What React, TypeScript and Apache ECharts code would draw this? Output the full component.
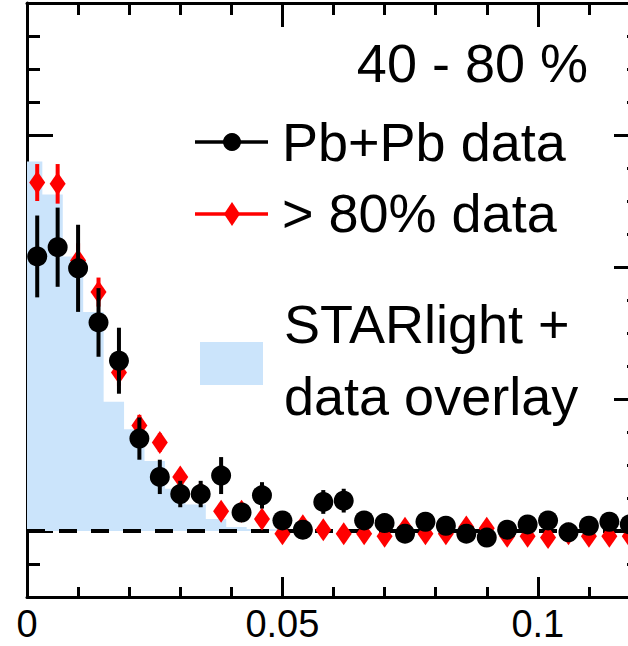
import React, { useEffect, useRef } from "react";
import * as echarts from "echarts";

// Bin centres (|t| style x variable)
const xCenters = [
  0.002, 0.006, 0.010, 0.014, 0.018, 0.022, 0.026, 0.030, 0.034, 0.038,
  0.042, 0.046, 0.050, 0.054, 0.058, 0.062, 0.066, 0.070, 0.074, 0.078,
  0.082, 0.086, 0.090, 0.094, 0.098, 0.102, 0.106, 0.110, 0.114, 0.118,
];

// Pb+Pb data (40-80 %)
const pbpb = [
  2.08, 2.15, 1.99, 1.58, 1.29, 0.70, 0.41, 0.28, 0.28, 0.42,
  0.14, 0.27, 0.08, 0.01, 0.22, 0.23, 0.08, 0.06, -0.02, 0.07,
  0.04, -0.02, -0.05, 0.01, 0.05, 0.08, -0.01, 0.04, 0.07, 0.05,
];
const pbpbErr = [
  0.31, 0.30, 0.33, 0.26, 0.25, 0.16, 0.13, 0.10, 0.10, 0.14,
  0.06, 0.10, 0.04, 0.03, 0.09, 0.09, 0.04, 0.04, 0.04, 0.04,
  0.04, 0.04, 0.04, 0.04, 0.04, 0.04, 0.04, 0.04, 0.04, 0.04,
];

// > 80% data
const periph = [
  2.64, 2.63, 2.05, 1.81, 1.20, 0.80, 0.67, 0.41, 0.29, 0.15,
  0.15, 0.09, -0.02, 0.04, 0.01, -0.02, -0.02, -0.04, 0.02, -0.02,
  -0.02, 0.03, 0.02, -0.04, -0.04, -0.05, -0.02, -0.04, -0.04, -0.04,
];
const periphErr = [
  0.14, 0.15, 0.13, 0.11, 0.10, 0.08, 0.07, 0.06, 0.05, 0.04,
  0.04, 0.04, 0.04, 0.04, 0.04, 0.04, 0.04, 0.04, 0.04, 0.04,
  0.04, 0.04, 0.04, 0.04, 0.04, 0.04, 0.04, 0.04, 0.04, 0.04,
];

// STARlight + data overlay histogram
const histLow = [
  -0.001, 0.003, 0.007, 0.011, 0.015, 0.019, 0.023, 0.027, 0.031, 0.035,
  0.039, 0.043, 0.047, 0.051,
];
const histHigh = [
  0.003, 0.007, 0.011, 0.015, 0.019, 0.023, 0.027, 0.031, 0.035, 0.039,
  0.043, 0.047, 0.051, 0.055,
];
const histVal = [
  2.80, 2.55, 2.08, 1.66, 0.98, 0.77, 0.53, 0.32, 0.20, 0.09,
  0.03, 0.015, 0.01, 0,
];

const xMajorTicks = [0, 0.05, 0.1];
const xMinorTicks = [0.01, 0.02, 0.03, 0.04, 0.06, 0.07, 0.08, 0.09, 0.11];
const xTickLabels = ["0", "0.05", "0.1"];
const yMajorTicks = [0, 1, 2, 3];
const yMinorTicks = [
  -0.25, 0.25, 0.5, 0.75, 1.25, 1.5, 1.75, 2.25, 2.5, 2.75, 3.25, 3.5, 3.75,
];

const X_MIN = 0;
const X_MAX = 0.12;
const Y_MIN = -0.5;
const Y_MAX = 4;
const ZERO_LINE = [[X_MIN, X_MAX, 0]];

const BLUE = "#cbe4fb";
const FONT = '"Liberation Sans", Arial, Helvetica, sans-serif';
const LEG_FONT = 54;

export default function App() {
  const ref = useRef<HTMLDivElement>(null);

  useEffect(() => {
    if (!ref.current) return;
    const chart = echarts.init(ref.current, undefined, { renderer: "svg" });

    const histData: number[][] = [];
    histVal.forEach((v, i) => {
      histData.push([histLow[i], v]);
      histData.push([histHigh[i], v]);
    });

    const errRender = (color: string) => (params: any, api: any) => {
      const x = api.value(0);
      const y = api.value(1);
      const e = api.value(2);
      const p1 = api.coord([x, y - e]);
      const p2 = api.coord([x, y + e]);
      return {
        type: "line",
        shape: { x1: p1[0], y1: p1[1], x2: p2[0], y2: p2[1] },
        style: { stroke: color, lineWidth: 4 },
      };
    };

    const zeroRender = (params: any, api: any) => {
      const p1 = api.coord([api.value(0), api.value(2)]);
      const p2 = api.coord([api.value(1), api.value(2)]);
      return {
        type: "line",
        shape: { x1: p1[0], y1: p1[1], x2: p2[0], y2: p2[1] },
        style: { stroke: "#000", lineWidth: 4, lineDash: [18, 14] },
      };
    };

    const axisLineStyle = { color: "#000", width: 3 };

    const mkX = (pos: "top" | "bottom", major: boolean) => ({
      type: "value",
      position: pos,
      min: X_MIN,
      max: X_MAX,
      axisLine: { show: major, onZero: false, lineStyle: axisLineStyle },
      axisTick: {
        show: true,
        inside: true,
        length: major ? (pos === "bottom" ? 20 : 24) : pos === "bottom" ? 10 : 12,
        lineStyle: { color: "#000", width: 3 },
        customValues: major ? xMajorTicks : xMinorTicks,
      },
      axisLabel: {
        show: major && pos === "bottom",
        customValues: xMajorTicks,
        formatter: (v: number) => {
          const i = xMajorTicks.findIndex((t) => Math.abs(t - v) < 1e-9);
          return i >= 0 ? xTickLabels[i] : "";
        },
        color: "#000",
        fontSize: 38,
        fontFamily: FONT,
        margin: 8,
      },
      splitLine: { show: false },
    });

    const mkY = (pos: "left" | "right", major: boolean) => ({
      type: "value",
      position: pos,
      min: Y_MIN,
      max: Y_MAX,
      axisLine: { show: major, onZero: false, lineStyle: axisLineStyle },
      axisTick: {
        show: true,
        inside: true,
        length: major ? 26 : 13,
        lineStyle: { color: "#000", width: 3 },
        customValues: major ? yMajorTicks : yMinorTicks,
      },
      axisLabel: { show: false },
      splitLine: { show: false },
    });

    const legText = (text: string, x: number, y: number, align = "left") => ({
      type: "text",
      x,
      y,
      z: 100,
      style: {
        text,
        fontSize: LEG_FONT,
        fontFamily: FONT,
        fill: "#000",
        align,
        verticalAlign: "middle",
      },
    });

    const option: any = {
      animation: false,
      backgroundColor: "#fff",
      grid: { left: 27, right: 20, top: 3, bottom: 49, containLabel: false },
      xAxis: [
        mkX("bottom", true),
        mkX("bottom", false),
        mkX("top", true),
        mkX("top", false),
      ],
      yAxis: [
        mkY("left", true),
        mkY("left", false),
        mkY("right", true),
        mkY("right", false),
      ],
      series: [
        {
          type: "line",
          data: histData,
          showSymbol: false,
          symbol: "none",
          lineStyle: { width: 0, color: BLUE },
          areaStyle: { color: BLUE, opacity: 1, origin: 0 },
          z: 1,
        },
        {
          type: "custom",
          renderItem: zeroRender,
          data: ZERO_LINE,
          encode: { x: [0, 1], y: 2 },
          clip: true,
          z: 2,
        },
        {
          type: "custom",
          renderItem: errRender("#ff0000"),
          data: xCenters.map((x, i) => [x, periph[i], periphErr[i]]),
          encode: { x: 0, y: 1 },
          clip: true,
          z: 3,
        },
        {
          type: "scatter",
          data: xCenters.map((x, i) => [x, periph[i]]),
          symbol: "diamond",
          symbolSize: [16, 23],
          itemStyle: { color: "#ff0000", opacity: 1 },
          z: 4,
        },
        {
          type: "custom",
          renderItem: errRender("#000"),
          data: xCenters.map((x, i) => [x, pbpb[i], pbpbErr[i]]),
          encode: { x: 0, y: 1 },
          clip: true,
          z: 5,
        },
        {
          type: "scatter",
          data: xCenters.map((x, i) => [x, pbpb[i]]),
          symbol: "circle",
          symbolSize: 20,
          itemStyle: { color: "#000", opacity: 1 },
          z: 6,
        },
      ],
      graphic: [
        legText("40 - 80 %", 588, 63, "right"),
        {
          type: "line",
          z: 100,
          shape: { x1: 195, y1: 142, x2: 268, y2: 142 },
          style: { stroke: "#000", lineWidth: 3.5 },
        },
        {
          type: "circle",
          z: 101,
          shape: { cx: 232, cy: 142, r: 9 },
          style: { fill: "#000" },
        },
        legText("Pb+Pb data", 282, 142),
        {
          type: "line",
          z: 100,
          shape: { x1: 195, y1: 214, x2: 268, y2: 214 },
          style: { stroke: "#ff0000", lineWidth: 3.5 },
        },
        {
          type: "polygon",
          z: 101,
          shape: {
            points: [
              [232, 202],
              [240, 214],
              [232, 226],
              [224, 214],
            ],
          },
          style: { fill: "#ff0000" },
        },
        legText("> 80% data", 282, 213),
        {
          type: "rect",
          z: 100,
          shape: { x: 200, y: 342, width: 63, height: 43 },
          style: { fill: BLUE },
        },
        legText("STARlight +", 284, 324),
        legText("data overlay", 284, 396),
      ],
    };

    chart.setOption(option);
    return () => chart.dispose();
  }, []);

  return (
    <div
      style={{
        position: "fixed",
        left: 0,
        top: 0,
        width: 628,
        height: 646,
        overflow: "hidden",
        background: "#fff",
      }}
    >
      <div ref={ref} style={{ width: 660, height: 646 }} />
    </div>
  );
}
